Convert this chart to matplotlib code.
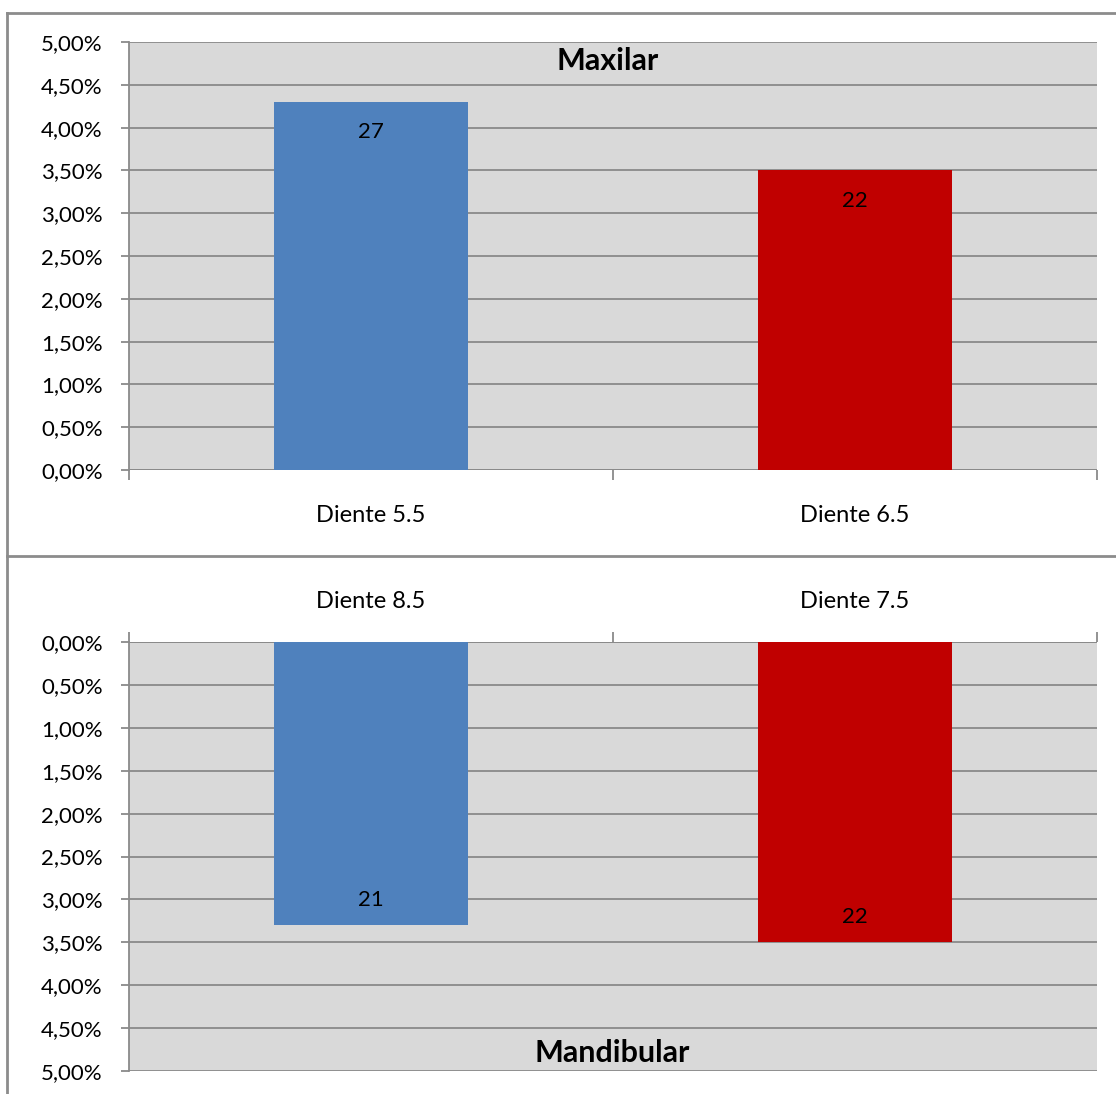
import matplotlib
matplotlib.use("Agg")
import matplotlib.pyplot as plt
from matplotlib.lines import Line2D
from matplotlib.ticker import FuncFormatter, MultipleLocator

plt.rcParams["font.family"] = ["Lato", "DejaVu Sans"]

# ── Data ──────────────────────────────────────────────────────────────────────
upper_teeth = ["Diente 5.5", "Diente 6.5"]
upper_pct = [4.30, 3.50]
upper_counts = [27, 22]

lower_teeth = ["Diente 8.5", "Diente 7.5"]
lower_pct = [3.30, 3.50]
lower_counts = [21, 22]

bar_colors = ["#4f81bd", "#c00000"]
GRID = "#8a8a8a"
BG = "#d9d9d9"

W, H = 1116, 1094
fig = plt.figure(figsize=(W / 100, H / 100), dpi=100)


def pct_fmt(v, _):
    return f"{v:.2f}%".replace(".", ",")


def setup(ax, teeth, inverted):
    ax.set_facecolor(BG)
    ax.set_xlim(-0.5, 1.5)
    ax.set_ylim(0, 5)
    if inverted:
        ax.invert_yaxis()
        ax.xaxis.tick_top()
    ax.yaxis.set_major_locator(MultipleLocator(0.5))
    ax.yaxis.set_major_formatter(FuncFormatter(pct_fmt))
    ax.grid(axis="y", color=GRID, lw=1.3)
    ax.set_axisbelow(True)
    for s in ax.spines.values():
        s.set_visible(False)
    ax.spines["left"].set_visible(True)
    ax.spines["left"].set_color(GRID)
    ax.spines["left"].set_linewidth(1.3)
    ax.tick_params(axis="y", length=6, color=GRID, width=1.3, labelsize=16, pad=13)
    ax.set_xticks([0, 1])
    ax.set_xticklabels(teeth)
    ax.set_xticks([-0.5, 0.5, 1.5], minor=True)
    ax.tick_params(axis="x", which="major", length=0, labelsize=17,
                   pad=21.5 if inverted else 25)
    ax.tick_params(axis="x", which="minor", length=7, color=GRID, width=1.3)


# ── Maxilar (top) ─────────────────────────────────────────────────────────────
ax1 = fig.add_axes([129 / W, 1 - 470 / H, 968 / W, 428 / H])
setup(ax1, upper_teeth, inverted=False)
ax1.axhline(0, color=GRID, lw=1.3)
bars = ax1.bar(range(len(upper_pct)), upper_pct, width=0.4, color=bar_colors, zorder=2)
for b, n in zip(bars, upper_counts):
    ax1.annotate(str(n), xy=(b.get_x() + b.get_width() / 2, b.get_height()),
                 xytext=(0, -22), textcoords="offset points",
                 ha="center", va="center", fontsize=16)

# ── Mandibular (bottom) ───────────────────────────────────────────────────────
ax2 = fig.add_axes([129 / W, 1 - 1071 / H, 968 / W, 429 / H])
setup(ax2, lower_teeth, inverted=True)
ax2.axhline(0, color=GRID, lw=1.3)
bars = ax2.bar(range(len(lower_pct)), lower_pct, width=0.4, color=bar_colors, zorder=2)
for b, n in zip(bars, lower_counts):
    ax2.annotate(str(n), xy=(b.get_x() + b.get_width() / 2, b.get_height()),
                 xytext=(0, 18), textcoords="offset points",
                 ha="center", va="center", fontsize=16)

# chart titles
fig.text(608 / W, 1 - 61 / H, "Maxilar", ha="center", va="center",
         fontsize=22, fontweight="bold")
fig.text(612 / W, 1 - 1053 / H, "Mandibular", ha="center", va="center",
         fontsize=22, fontweight="bold")

# chart frames
frame = dict(color="#8c8c8c", lw=2, transform=fig.transFigure)
fig.add_artist(Line2D([7 / W, 7 / W], [0, 1 - 13 / H], **frame))
fig.add_artist(Line2D([7 / W, 1], [1 - 13 / H, 1 - 13 / H], **frame))
fig.add_artist(Line2D([7 / W, 1], [1 - 556 / H, 1 - 556 / H], **frame))

fig.savefig("out.png", dpi=100)
